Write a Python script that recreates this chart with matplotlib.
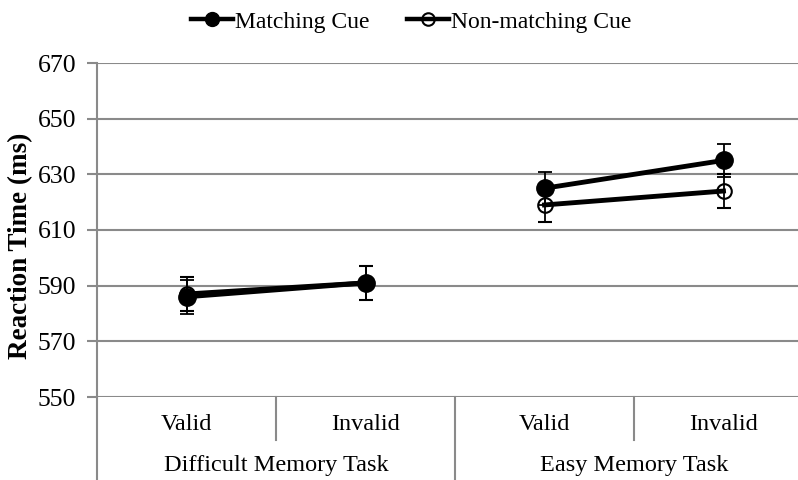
import matplotlib
matplotlib.use("Agg")
import matplotlib.pyplot as plt
from matplotlib.lines import Line2D

plt.rcParams['font.family'] = ['Liberation Serif', 'DejaVu Serif']

conditions = ["Valid", "Invalid", "Valid", "Invalid"]
groups = ["Difficult Memory Task", "Easy Memory Task"]
matching = [586, 591, 625, 635]
matching_err = [6, 6, 6, 6]
nonmatching = [587, 591, 619, 624]
nonmatching_err = [6, 6, 6, 6]
yticks = [550, 570, 590, 610, 630, 650, 670]

W, H = 798, 480
fig = plt.figure(figsize=(W / 100, H / 100), dpi=100)
left_px, right_px, top_px, bot_px = 97, 813, 63, 397
ax = fig.add_axes([left_px / W, 1 - bot_px / H, (right_px - left_px) / W, (bot_px - top_px) / H])
ax.set_xlim(-0.5, 3.5)
ax.set_ylim(550, 670)
grid_c = "#8a8a8a"
ax.set_yticks(yticks)
ax.yaxis.grid(True, color=grid_c, linewidth=1.5)
ax.set_axisbelow(True)
for s in ["top", "right", "bottom"]:
    ax.spines[s].set_visible(False)
ax.spines["left"].set_color(grid_c)
ax.spines["left"].set_linewidth(1.5)
ax.tick_params(axis="y", direction="out", length=7, width=1.5, color=grid_c, labelsize=18.5, pad=8)
ax.set_xticks([])
ax.set_ylabel("Reaction Time (ms)", fontsize=19.5, fontweight="bold")
ax.yaxis.set_label_coords((33 - left_px) / (right_px - left_px), (bot_px - 246) / (bot_px - top_px))

x = list(range(len(conditions)))
for seg in [(0, 2), (2, 4)]:
    a, b = seg
    ax.errorbar(x[a:b], nonmatching[a:b], yerr=nonmatching_err[a:b], color="black", linewidth=3.5,
                marker="o", markersize=10.5, markerfacecolor="none", markeredgecolor="black",
                markeredgewidth=1.5, ecolor="black", elinewidth=1.3, capsize=5, capthick=1.3, zorder=3)
    ax.errorbar(x[a:b], matching[a:b], yerr=matching_err[a:b], color="black", linewidth=3.5,
                marker="o", markersize=12.5, markerfacecolor="black", markeredgecolor="black",
                ecolor="black", elinewidth=1.3, capsize=5, capthick=1.3, zorder=4)

# category axis below the plot
trans = ax.get_xaxis_transform()
def yfrac(py):
    return (bot_px - py) / (bot_px - top_px)

for i, c in enumerate(conditions):
    ax.text(i, yfrac(425), c, transform=trans, ha="center", va="center", fontsize=17.5, clip_on=False)
for g, gname in enumerate(groups):
    ax.text(2 * g + 0.5, yfrac(465), gname, transform=trans, ha="center", va="center", fontsize=17.5, clip_on=False)
for xs, ybot in [(0.5, 440), (2.5, 440), (1.5, 480), (-0.5, 480)]:
    ax.add_line(Line2D([xs, xs], [0, yfrac(ybot)], transform=trans, color=grid_c, linewidth=1.5, clip_on=False))

handles = [
    Line2D([], [], color="black", linewidth=3.2, marker="o", markersize=10, markerfacecolor="black"),
    Line2D([], [], color="black", linewidth=3.2, marker="o", markersize=9, markerfacecolor="none",
           markeredgewidth=1.5),
]
fig.legend(handles, ["Matching Cue", "Non-matching Cue"], loc="center", bbox_to_anchor=(411 / W, 1 - 22 / H),
           ncol=2, frameon=False, fontsize=17, handlelength=1.8, handletextpad=0.05, columnspacing=1.6)

fig.savefig("out.png", dpi=100)
